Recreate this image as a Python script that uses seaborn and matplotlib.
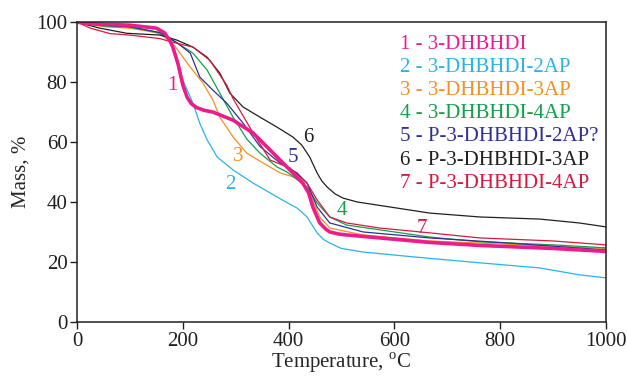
import pandas as pd
import matplotlib
matplotlib.use("Agg")
import matplotlib.pyplot as plt
import seaborn as sns

# TGA curves (temperature in C, mass in %)
t1 = [0, 15, 50, 100, 150, 165, 175, 181, 191, 200, 208, 216, 226, 240, 257, 295, 333, 371, 408, 427, 438, 446, 459, 470, 478, 495, 510, 573, 667, 762, 900, 1000]
m1 = [100, 99.7, 99.3, 99, 98, 96.5, 94, 91.7, 86, 79, 75, 72.8, 71.5, 70.6, 70, 67.3, 63, 56.3, 49.7, 46.3, 43, 38.3, 33, 31, 30, 29.3, 29, 28, 26.5, 25.5, 24.5, 23.5]

t2 = [0, 50, 100, 150, 168, 176, 189, 200, 219, 232, 246, 265, 295, 333, 378, 400, 416, 435, 454, 466, 478, 500, 541, 635, 762, 875, 950, 1000]
m2 = [100, 99, 98.5, 96.5, 95, 93.5, 87.3, 80.7, 73, 66.3, 60.7, 55, 50.7, 46.3, 41.7, 39.5, 38, 35, 29.7, 27.5, 26.3, 24.5, 23.3, 21.7, 19.7, 18, 15.7, 14.7]

t3 = [0, 50, 100, 157, 185, 214, 238, 257, 270, 295, 321, 352, 384, 416, 440, 459, 478, 541, 667, 800, 1000]
m3 = [100, 98.5, 98, 96.3, 92, 85, 79.7, 74, 68.3, 61.7, 56.3, 53, 49.7, 48, 43, 35, 31.3, 29, 27, 26, 24.5]

t4 = [0, 50, 100, 157, 190, 219, 246, 270, 295, 321, 346, 378, 397, 435, 454, 478, 510, 573, 667, 762, 900, 1000]
m4 = [100, 98.7, 98.3, 96.5, 93, 89.7, 84, 76.3, 68.3, 61, 56.3, 51.7, 50, 45, 39.7, 35, 32.3, 30.7, 28.3, 26.7, 25.7, 24.7]

t5 = [0, 50, 100, 157, 190, 214, 232, 257, 283, 314, 346, 384, 416, 435, 454, 478, 541, 667, 800, 1000]
m5 = [100, 99, 98.5, 96.5, 93, 89.7, 81.7, 77.3, 73, 66.3, 58.5, 53, 49.7, 46.3, 38.3, 33, 30, 28, 26.5, 24]

t6 = [0, 43, 94, 157, 189, 219, 246, 270, 289, 314, 346, 378, 408, 425, 440, 454, 463, 473, 488, 503, 530, 567, 667, 762, 875, 950, 1000]
m6 = [100, 98, 96.3, 95.7, 94, 91.7, 88.3, 83, 76.3, 71.7, 68.3, 65, 61.7, 59, 55, 49.7, 47, 45, 42.7, 41.3, 40, 39, 36.3, 35, 34.3, 33, 31.7]

t7 = [0, 25, 62, 100, 157, 181, 219, 251, 283, 295, 333, 365, 403, 435, 454, 478, 510, 573, 667, 762, 900, 1000]
m7 = [100, 98, 96.2, 95.7, 94.5, 93.3, 91.7, 87.3, 79, 74.5, 63, 54, 51.3, 46.3, 40.7, 35, 33, 31.3, 29.7, 28, 27, 25.7]

names = ["1 - 3-DHBHDI", "2 - 3-DHBHDI-2AP", "3 - 3-DHBHDI-3AP", "4 - 3-DHBHDI-4AP",
         "5 - P-3-DHBHDI-2AP?", "6 - P-3-DHBHDI-3AP", "7 - P-3-DHBHDI-4AP"]
colors = ["#EC1C8C", "#29B4E8", "#F7901E", "#12A04A", "#2E3192", "#231F20", "#D7193F"]

# curve number labels placed next to the curves
num_x = [181, 289, 305, 501, 408, 437, 653]
num_y = [79, 46, 55.3, 37, 54.8, 61.5, 31.3]

sns.set_style("ticks")
plt.rcParams["font.family"] = ["Liberation Serif", "DejaVu Serif"]
plt.rcParams["mathtext.fontset"] = "custom"
plt.rcParams["mathtext.rm"] = "Liberation Serif"

series = [(t1, m1), (t2, m2), (t3, m3), (t4, m4), (t5, m5), (t6, m6), (t7, m7)]

fig, ax = plt.subplots(figsize=(6.27, 3.76), dpi=100)
fig.subplots_adjust(left=0.123, right=0.966, top=0.941, bottom=0.144)

# thin curves first, thick magenta one on top
for i in [1, 2, 3, 4, 5, 6, 0]:
    t, m = series[i]
    df = pd.DataFrame({"T": t, "mass": m})
    sns.lineplot(data=df, x="T", y="mass", ax=ax, color=colors[i],
                 lw=2.6 if i == 0 else 0.9, sort=False)

for i in range(7):
    ax.text(num_x[i], num_y[i], str(i + 1), color=colors[i], fontsize=15,
            ha="center", va="center")

# colored legend text, no frame
for i in range(7):
    ax.text(611, 92.7 - i * 7.75, names[i], color=colors[i], fontsize=15,
            ha="left", va="center")

ax.set_xlim(0, 1000)
ax.set_ylim(0, 100)
ax.set_xticks([0, 200, 400, 600, 800, 1000])
ax.set_yticks([0, 20, 40, 60, 80, 100])
ax.tick_params(labelsize=15, length=5, width=1, direction="out", pad=2, colors="#231F20")
ax.set_xlabel("Temperature, $^{\\mathrm{o}}$C", fontsize=15, labelpad=0)
ax.set_ylabel("Mass, %", fontsize=15, labelpad=4)
for s in ax.spines.values():
    s.set_linewidth(1.1)
    s.set_color("#231F20")

plt.savefig("out.png", dpi=100)
